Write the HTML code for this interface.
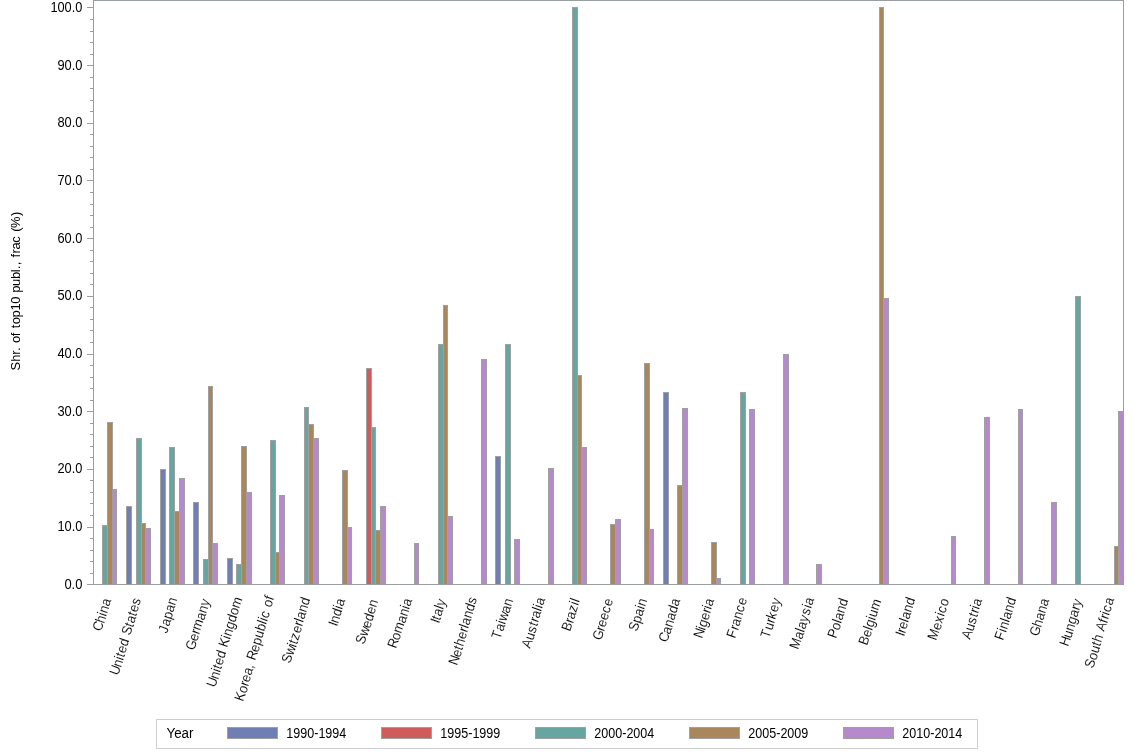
<!DOCTYPE html>
<html lang="en">
<head>
<meta charset="utf-8">
<title>Shr. of top10 publ., frac (%) by country and year</title>
<style>html,body{margin:0;padding:0;background:#fff;}body{width:1134px;height:756px;overflow:hidden;}</style>
</head>
<body>
<svg width="1134" height="756" viewBox="0 0 1134 756" style="display:block">
<rect x="0" y="0" width="1134" height="756" fill="#FFFFFF"/>
<g shape-rendering="crispEdges">
<rect x="102" y="525" width="6" height="59" fill="#A0A0A0"/>
<rect x="103" y="526" width="4" height="58" fill="#66A5A0"/>
<rect x="107" y="422" width="6" height="162" fill="#A0A0A0"/>
<rect x="108" y="423" width="4" height="161" fill="#A9865B"/>
<rect x="112" y="489" width="5" height="95" fill="#A0A0A0"/>
<rect x="113" y="490" width="3" height="94" fill="#B689CD"/>
<rect x="126" y="506" width="6" height="78" fill="#A0A0A0"/>
<rect x="127" y="507" width="4" height="77" fill="#6F7EB3"/>
<rect x="136" y="438" width="6" height="146" fill="#A0A0A0"/>
<rect x="137" y="439" width="4" height="145" fill="#66A5A0"/>
<rect x="141" y="523" width="5" height="61" fill="#A0A0A0"/>
<rect x="142" y="524" width="3" height="60" fill="#A9865B"/>
<rect x="145" y="528" width="6" height="56" fill="#A0A0A0"/>
<rect x="146" y="529" width="4" height="55" fill="#B689CD"/>
<rect x="160" y="469" width="6" height="115" fill="#A0A0A0"/>
<rect x="161" y="470" width="4" height="114" fill="#6F7EB3"/>
<rect x="169" y="447" width="6" height="137" fill="#A0A0A0"/>
<rect x="170" y="448" width="4" height="136" fill="#66A5A0"/>
<rect x="174" y="511" width="6" height="73" fill="#A0A0A0"/>
<rect x="175" y="512" width="4" height="72" fill="#A9865B"/>
<rect x="179" y="478" width="6" height="106" fill="#A0A0A0"/>
<rect x="180" y="479" width="4" height="105" fill="#B689CD"/>
<rect x="193" y="502" width="6" height="82" fill="#A0A0A0"/>
<rect x="194" y="503" width="4" height="81" fill="#6F7EB3"/>
<rect x="203" y="559" width="6" height="25" fill="#A0A0A0"/>
<rect x="204" y="560" width="4" height="24" fill="#66A5A0"/>
<rect x="208" y="386" width="5" height="198" fill="#A0A0A0"/>
<rect x="209" y="387" width="3" height="197" fill="#A9865B"/>
<rect x="212" y="543" width="6" height="41" fill="#A0A0A0"/>
<rect x="213" y="544" width="4" height="40" fill="#B689CD"/>
<rect x="227" y="558" width="6" height="26" fill="#A0A0A0"/>
<rect x="228" y="559" width="4" height="25" fill="#6F7EB3"/>
<rect x="236" y="564" width="6" height="20" fill="#A0A0A0"/>
<rect x="237" y="565" width="4" height="19" fill="#66A5A0"/>
<rect x="241" y="446" width="6" height="138" fill="#A0A0A0"/>
<rect x="242" y="447" width="4" height="137" fill="#A9865B"/>
<rect x="246" y="492" width="6" height="92" fill="#A0A0A0"/>
<rect x="247" y="493" width="4" height="91" fill="#B689CD"/>
<rect x="270" y="440" width="6" height="144" fill="#A0A0A0"/>
<rect x="271" y="441" width="4" height="143" fill="#66A5A0"/>
<rect x="275" y="552" width="5" height="32" fill="#A0A0A0"/>
<rect x="276" y="553" width="3" height="31" fill="#A9865B"/>
<rect x="279" y="495" width="6" height="89" fill="#A0A0A0"/>
<rect x="280" y="496" width="4" height="88" fill="#B689CD"/>
<rect x="304" y="407" width="5" height="177" fill="#A0A0A0"/>
<rect x="305" y="408" width="3" height="176" fill="#66A5A0"/>
<rect x="308" y="424" width="6" height="160" fill="#A0A0A0"/>
<rect x="309" y="425" width="4" height="159" fill="#A9865B"/>
<rect x="313" y="438" width="6" height="146" fill="#A0A0A0"/>
<rect x="314" y="439" width="4" height="145" fill="#B689CD"/>
<rect x="342" y="470" width="6" height="114" fill="#A0A0A0"/>
<rect x="343" y="471" width="4" height="113" fill="#A9865B"/>
<rect x="347" y="527" width="5" height="57" fill="#A0A0A0"/>
<rect x="348" y="528" width="3" height="56" fill="#B689CD"/>
<rect x="366" y="368" width="6" height="216" fill="#A0A0A0"/>
<rect x="367" y="369" width="4" height="215" fill="#D05B5B"/>
<rect x="371" y="427" width="5" height="157" fill="#A0A0A0"/>
<rect x="372" y="428" width="3" height="156" fill="#66A5A0"/>
<rect x="375" y="530" width="6" height="54" fill="#A0A0A0"/>
<rect x="376" y="531" width="4" height="53" fill="#A9865B"/>
<rect x="380" y="506" width="6" height="78" fill="#A0A0A0"/>
<rect x="381" y="507" width="4" height="77" fill="#B689CD"/>
<rect x="414" y="543" width="5" height="41" fill="#A0A0A0"/>
<rect x="415" y="544" width="3" height="40" fill="#B689CD"/>
<rect x="438" y="344" width="6" height="240" fill="#A0A0A0"/>
<rect x="439" y="345" width="4" height="239" fill="#66A5A0"/>
<rect x="443" y="305" width="5" height="279" fill="#A0A0A0"/>
<rect x="444" y="306" width="3" height="278" fill="#A9865B"/>
<rect x="447" y="516" width="6" height="68" fill="#A0A0A0"/>
<rect x="448" y="517" width="4" height="67" fill="#B689CD"/>
<rect x="481" y="359" width="6" height="225" fill="#A0A0A0"/>
<rect x="482" y="360" width="4" height="224" fill="#B689CD"/>
<rect x="495" y="456" width="6" height="128" fill="#A0A0A0"/>
<rect x="496" y="457" width="4" height="127" fill="#6F7EB3"/>
<rect x="505" y="344" width="6" height="240" fill="#A0A0A0"/>
<rect x="506" y="345" width="4" height="239" fill="#66A5A0"/>
<rect x="514" y="539" width="6" height="45" fill="#A0A0A0"/>
<rect x="515" y="540" width="4" height="44" fill="#B689CD"/>
<rect x="548" y="468" width="6" height="116" fill="#A0A0A0"/>
<rect x="549" y="469" width="4" height="115" fill="#B689CD"/>
<rect x="572" y="7" width="6" height="577" fill="#A0A0A0"/>
<rect x="573" y="8" width="4" height="576" fill="#66A5A0"/>
<rect x="577" y="375" width="5" height="209" fill="#A0A0A0"/>
<rect x="578" y="376" width="3" height="208" fill="#A9865B"/>
<rect x="581" y="447" width="6" height="137" fill="#A0A0A0"/>
<rect x="582" y="448" width="4" height="136" fill="#B689CD"/>
<rect x="610" y="524" width="6" height="60" fill="#A0A0A0"/>
<rect x="611" y="525" width="4" height="59" fill="#A9865B"/>
<rect x="615" y="519" width="6" height="65" fill="#A0A0A0"/>
<rect x="616" y="520" width="4" height="64" fill="#B689CD"/>
<rect x="644" y="363" width="6" height="221" fill="#A0A0A0"/>
<rect x="645" y="364" width="4" height="220" fill="#A9865B"/>
<rect x="649" y="529" width="5" height="55" fill="#A0A0A0"/>
<rect x="650" y="530" width="3" height="54" fill="#B689CD"/>
<rect x="663" y="392" width="6" height="192" fill="#A0A0A0"/>
<rect x="664" y="393" width="4" height="191" fill="#6F7EB3"/>
<rect x="677" y="485" width="6" height="99" fill="#A0A0A0"/>
<rect x="678" y="486" width="4" height="98" fill="#A9865B"/>
<rect x="682" y="408" width="6" height="176" fill="#A0A0A0"/>
<rect x="683" y="409" width="4" height="175" fill="#B689CD"/>
<rect x="711" y="542" width="6" height="42" fill="#A0A0A0"/>
<rect x="712" y="543" width="4" height="41" fill="#A9865B"/>
<rect x="716" y="578" width="5" height="6" fill="#A0A0A0"/>
<rect x="717" y="579" width="3" height="5" fill="#B689CD"/>
<rect x="740" y="392" width="6" height="192" fill="#A0A0A0"/>
<rect x="741" y="393" width="4" height="191" fill="#66A5A0"/>
<rect x="749" y="409" width="6" height="175" fill="#A0A0A0"/>
<rect x="750" y="410" width="4" height="174" fill="#B689CD"/>
<rect x="783" y="354" width="6" height="230" fill="#A0A0A0"/>
<rect x="784" y="355" width="4" height="229" fill="#B689CD"/>
<rect x="816" y="564" width="6" height="20" fill="#A0A0A0"/>
<rect x="817" y="565" width="4" height="19" fill="#B689CD"/>
<rect x="879" y="7" width="5" height="577" fill="#A0A0A0"/>
<rect x="880" y="8" width="3" height="576" fill="#A9865B"/>
<rect x="883" y="298" width="6" height="286" fill="#A0A0A0"/>
<rect x="884" y="299" width="4" height="285" fill="#B689CD"/>
<rect x="951" y="536" width="5" height="48" fill="#A0A0A0"/>
<rect x="952" y="537" width="3" height="47" fill="#B689CD"/>
<rect x="984" y="417" width="6" height="167" fill="#A0A0A0"/>
<rect x="985" y="418" width="4" height="166" fill="#B689CD"/>
<rect x="1018" y="409" width="5" height="175" fill="#A0A0A0"/>
<rect x="1019" y="410" width="3" height="174" fill="#B689CD"/>
<rect x="1051" y="502" width="6" height="82" fill="#A0A0A0"/>
<rect x="1052" y="503" width="4" height="81" fill="#B689CD"/>
<rect x="1075" y="296" width="6" height="288" fill="#A0A0A0"/>
<rect x="1076" y="297" width="4" height="287" fill="#66A5A0"/>
<rect x="1114" y="546" width="5" height="38" fill="#A0A0A0"/>
<rect x="1115" y="547" width="3" height="37" fill="#A9865B"/>
<rect x="1118" y="411" width="6" height="173" fill="#A0A0A0"/>
<rect x="1119" y="412" width="4" height="172" fill="#B689CD"/>
<rect x="93" y="0" width="1031" height="1" fill="#989EA1"/>
<rect x="1123" y="0" width="1" height="585" fill="#989EA1"/>
<rect x="93" y="0" width="1" height="585" fill="#989EA1"/>
<rect x="87" y="584" width="1037" height="1" fill="#989EA1"/>
<rect x="87" y="584" width="6" height="1" fill="#989EA1"/>
<rect x="90" y="573" width="3" height="1" fill="#989EA1"/>
<rect x="90" y="561" width="3" height="1" fill="#989EA1"/>
<rect x="90" y="550" width="3" height="1" fill="#989EA1"/>
<rect x="90" y="538" width="3" height="1" fill="#989EA1"/>
<rect x="87" y="527" width="6" height="1" fill="#989EA1"/>
<rect x="90" y="515" width="3" height="1" fill="#989EA1"/>
<rect x="90" y="503" width="3" height="1" fill="#989EA1"/>
<rect x="90" y="492" width="3" height="1" fill="#989EA1"/>
<rect x="90" y="480" width="3" height="1" fill="#989EA1"/>
<rect x="87" y="469" width="6" height="1" fill="#989EA1"/>
<rect x="90" y="457" width="3" height="1" fill="#989EA1"/>
<rect x="90" y="446" width="3" height="1" fill="#989EA1"/>
<rect x="90" y="434" width="3" height="1" fill="#989EA1"/>
<rect x="90" y="423" width="3" height="1" fill="#989EA1"/>
<rect x="87" y="411" width="6" height="1" fill="#989EA1"/>
<rect x="90" y="400" width="3" height="1" fill="#989EA1"/>
<rect x="90" y="388" width="3" height="1" fill="#989EA1"/>
<rect x="90" y="377" width="3" height="1" fill="#989EA1"/>
<rect x="90" y="365" width="3" height="1" fill="#989EA1"/>
<rect x="87" y="354" width="6" height="1" fill="#989EA1"/>
<rect x="90" y="342" width="3" height="1" fill="#989EA1"/>
<rect x="90" y="330" width="3" height="1" fill="#989EA1"/>
<rect x="90" y="319" width="3" height="1" fill="#989EA1"/>
<rect x="90" y="307" width="3" height="1" fill="#989EA1"/>
<rect x="87" y="296" width="6" height="1" fill="#989EA1"/>
<rect x="90" y="284" width="3" height="1" fill="#989EA1"/>
<rect x="90" y="273" width="3" height="1" fill="#989EA1"/>
<rect x="90" y="261" width="3" height="1" fill="#989EA1"/>
<rect x="90" y="250" width="3" height="1" fill="#989EA1"/>
<rect x="87" y="238" width="6" height="1" fill="#989EA1"/>
<rect x="90" y="227" width="3" height="1" fill="#989EA1"/>
<rect x="90" y="215" width="3" height="1" fill="#989EA1"/>
<rect x="90" y="204" width="3" height="1" fill="#989EA1"/>
<rect x="90" y="192" width="3" height="1" fill="#989EA1"/>
<rect x="87" y="180" width="6" height="1" fill="#989EA1"/>
<rect x="90" y="169" width="3" height="1" fill="#989EA1"/>
<rect x="90" y="157" width="3" height="1" fill="#989EA1"/>
<rect x="90" y="146" width="3" height="1" fill="#989EA1"/>
<rect x="90" y="134" width="3" height="1" fill="#989EA1"/>
<rect x="87" y="123" width="6" height="1" fill="#989EA1"/>
<rect x="90" y="111" width="3" height="1" fill="#989EA1"/>
<rect x="90" y="100" width="3" height="1" fill="#989EA1"/>
<rect x="90" y="88" width="3" height="1" fill="#989EA1"/>
<rect x="90" y="77" width="3" height="1" fill="#989EA1"/>
<rect x="87" y="65" width="6" height="1" fill="#989EA1"/>
<rect x="90" y="54" width="3" height="1" fill="#989EA1"/>
<rect x="90" y="42" width="3" height="1" fill="#989EA1"/>
<rect x="90" y="31" width="3" height="1" fill="#989EA1"/>
<rect x="90" y="19" width="3" height="1" fill="#989EA1"/>
<rect x="87" y="7" width="6" height="1" fill="#989EA1"/>
</g>
<g font-family="'Liberation Sans', Arial, Helvetica, sans-serif" font-size="14" fill="#000000">
<text x="64.4" y="589.00" textLength="18" lengthAdjust="spacingAndGlyphs">0.0</text>
<text x="57.400000000000006" y="531.00" textLength="25" lengthAdjust="spacingAndGlyphs">10.0</text>
<text x="57.400000000000006" y="473.00" textLength="25" lengthAdjust="spacingAndGlyphs">20.0</text>
<text x="57.400000000000006" y="416.00" textLength="25" lengthAdjust="spacingAndGlyphs">30.0</text>
<text x="57.400000000000006" y="358.00" textLength="25" lengthAdjust="spacingAndGlyphs">40.0</text>
<text x="57.400000000000006" y="300.00" textLength="25" lengthAdjust="spacingAndGlyphs">50.0</text>
<text x="57.400000000000006" y="243.00" textLength="25" lengthAdjust="spacingAndGlyphs">60.0</text>
<text x="57.400000000000006" y="185.00" textLength="25" lengthAdjust="spacingAndGlyphs">70.0</text>
<text x="57.400000000000006" y="127.00" textLength="25" lengthAdjust="spacingAndGlyphs">80.0</text>
<text x="57.400000000000006" y="70.00" textLength="25" lengthAdjust="spacingAndGlyphs">90.0</text>
<text x="50.400000000000006" y="12.00" textLength="32" lengthAdjust="spacingAndGlyphs">100.0</text>
<text xml:space="preserve" transform="translate(20.3,370.6) rotate(-90) scale(0.95,1)" x="0.00 9.32 16.57 20.72 24.86 29.00 36.25 40.40 44.54 48.68 55.93 63.18 70.43 77.68 81.83 89.08 96.33 103.58 106.69 110.83 114.97 119.12 123.26 127.40 134.65 141.90 146.05 150.19 162.62" y="0" font-size="13.6" stroke="#FFFFFF" stroke-width="0" paint-order="fill">Shr. of top10 publ., frac (%)</text>
<g font-size="14" stroke="#FFFFFF" stroke-width="0.12" paint-order="fill" stroke-linejoin="round">
<text xml:space="preserve" transform="matrix(0.30710 -0.86723 0.94264 0.33381 0 0)" x="-610.94 -601.66 -593.76 -590.32 -582.43" y="306.08 306.24 305.78 305.73 305.27">China</text>
<text xml:space="preserve" transform="matrix(0.30710 -0.86723 0.94264 0.33381 0 0)" x="-649.86 -640.57 -632.68 -629.24 -624.78 -616.88 -608.98 -604.52 -595.23 -590.77 -582.88 -578.41 -570.52" y="336.79 336.95 336.50 336.44 336.05 335.59 335.14 334.75 334.91 334.52 334.06 333.67 333.22">United States</text>
<text xml:space="preserve" transform="matrix(0.30710 -0.86723 0.94264 0.33381 0 0)" x="-589.05 -581.15 -573.25 -565.35 -557.45" y="368.96 368.51 368.06 367.61 367.15">Japan</text>
<text xml:space="preserve" transform="matrix(0.30710 -0.86723 0.94264 0.33381 0 0)" x="-596.67 -586.36 -578.46 -574.00 -562.30 -554.40 -546.51" y="400.09 399.91 399.46 399.07 399.50 399.05 398.60">Germany</text>
<text xml:space="preserve" transform="matrix(0.30710 -0.86723 0.94264 0.33381 0 0)" x="-626.96 -617.67 -609.78 -606.34 -601.88 -593.98 -586.08 -581.62 -572.34 -568.90 -561.00 -553.10 -545.20 -537.31" y="432.23 432.39 431.94 431.88 431.49 431.04 430.58 430.19 430.35 430.29 429.84 429.39 428.94 428.49">United Kingdom</text>
<text xml:space="preserve" transform="matrix(0.30710 -0.86723 0.94264 0.33381 0 0)" x="-631.14 -621.86 -613.96 -609.50 -601.60 -593.70 -589.24 -584.78 -575.50 -567.60 -559.70 -551.80 -543.90 -540.47 -537.03 -529.13 -524.67 -516.77" y="463.30 463.46 463.01 462.61 462.16 461.71 461.32 460.93 461.08 460.63 460.18 459.73 459.28 459.22 459.16 458.71 458.32 457.86">Korea, Republic of</text>
<text xml:space="preserve" transform="matrix(0.30710 -0.86723 0.94264 0.33381 0 0)" x="-575.16 -565.87 -556.59 -553.15 -548.69 -540.79 -532.89 -528.43 -524.99 -517.10 -509.20" y="494.92 495.08 495.23 495.18 494.78 494.33 493.88 493.49 493.43 492.98 492.53">Switzerland</text>
<text xml:space="preserve" transform="matrix(0.30710 -0.86723 0.94264 0.33381 0 0)" x="-520.19 -516.76 -508.86 -500.96 -497.52" y="526.87 526.81 526.36 525.91 525.85">India</text>
<text xml:space="preserve" transform="matrix(0.30710 -0.86723 0.94264 0.33381 0 0)" x="-528.84 -519.55 -510.27 -502.37 -494.47 -486.57" y="558.33 558.49 558.65 558.20 557.74 557.29">Sweden</text>
<text xml:space="preserve" transform="matrix(0.30710 -0.86723 0.94264 0.33381 0 0)" x="-521.33 -512.04 -504.14 -492.45 -484.55 -476.65 -473.21" y="589.83 589.99 589.54 589.97 589.52 589.07 589.01">Romania</text>
<text xml:space="preserve" transform="matrix(0.30710 -0.86723 0.94264 0.33381 0 0)" x="-480.11 -476.67 -472.21 -464.31 -460.88" y="622.02 621.96 621.57 621.12 621.06">Italy</text>
<text xml:space="preserve" transform="matrix(0.30710 -0.86723 0.94264 0.33381 0 0)" x="-516.61 -507.33 -499.43 -494.97 -487.07 -479.17 -474.71 -471.27 -463.38 -455.48 -447.58" y="653.01 653.17 652.71 652.32 651.87 651.42 651.03 650.97 650.52 650.06 649.61">Netherlands</text>
<text xml:space="preserve" transform="matrix(0.30710 -0.86723 0.94264 0.33381 0 0)" x="-474.37 -465.08 -457.19 -453.75 -444.46 -436.57" y="684.86 685.02 684.57 684.51 684.67 684.22">Taiwan</text>
<text xml:space="preserve" transform="matrix(0.30710 -0.86723 0.94264 0.33381 0 0)" x="-472.71 -463.42 -455.52 -447.63 -443.16 -438.70 -430.80 -427.37 -423.93" y="716.15 716.30 715.85 715.40 715.01 714.62 714.16 714.11 714.05">Australia</text>
<text xml:space="preserve" transform="matrix(0.30710 -0.86723 0.94264 0.33381 0 0)" x="-440.77 -431.49 -427.03 -419.13 -411.23 -407.80" y="748.18 748.33 747.94 747.49 747.04 746.98">Brazil</text>
<text xml:space="preserve" transform="matrix(0.30710 -0.86723 0.94264 0.33381 0 0)" x="-438.75 -428.44 -423.98 -416.08 -408.18 -400.28" y="780.40 780.23 779.83 779.38 778.93 778.48">Greece</text>
<text xml:space="preserve" transform="matrix(0.30710 -0.86723 0.94264 0.33381 0 0)" x="-416.47 -407.18 -399.28 -391.38 -387.95" y="811.33 811.49 811.04 810.59 810.53">Spain</text>
<text xml:space="preserve" transform="matrix(0.30710 -0.86723 0.94264 0.33381 0 0)" x="-416.85 -407.57 -399.67 -391.77 -383.87 -375.97" y="843.29 843.44 842.99 842.54 842.09 841.64">Canada</text>
<text xml:space="preserve" transform="matrix(0.30710 -0.86723 0.94264 0.33381 0 0)" x="-400.05 -390.77 -387.33 -379.43 -371.54 -367.07 -363.64" y="874.94 875.10 875.04 874.59 874.14 873.75 873.69">Nigeria</text>
<text xml:space="preserve" transform="matrix(0.30710 -0.86723 0.94264 0.33381 0 0)" x="-388.08 -378.79 -374.33 -366.44 -358.54 -350.64" y="906.05 906.21 905.81 905.36 904.91 904.46">France</text>
<text xml:space="preserve" transform="matrix(0.30710 -0.86723 0.94264 0.33381 0 0)" x="-375.74 -366.46 -358.56 -354.10 -346.20 -338.30" y="938.10 938.26 937.81 937.41 936.96 936.51">Turkey</text>
<text xml:space="preserve" transform="matrix(0.30710 -0.86723 0.94264 0.33381 0 0)" x="-376.49 -364.79 -356.90 -353.46 -345.56 -337.66 -329.77 -326.33" y="969.11 969.54 969.09 969.03 968.58 968.13 967.68 967.62">Malaysia</text>
<text xml:space="preserve" transform="matrix(0.30710 -0.86723 0.94264 0.33381 0 0)" x="-351.43 -342.15 -334.25 -330.81 -322.92 -315.02" y="1001.26 1001.41 1000.96 1000.90 1000.45 1000.00">Poland</text>
<text xml:space="preserve" transform="matrix(0.30710 -0.86723 0.94264 0.33381 0 0)" x="-347.36 -338.07 -330.17 -326.74 -318.84 -315.40 -307.51" y="1032.82 1032.97 1032.52 1032.46 1032.01 1031.95 1031.50">Belgium</text>
<text xml:space="preserve" transform="matrix(0.30710 -0.86723 0.94264 0.33381 0 0)" x="-324.71 -321.27 -316.81 -308.92 -305.48 -297.58 -289.68" y="1064.69 1064.63 1064.24 1063.79 1063.73 1063.28 1062.82">Ireland</text>
<text xml:space="preserve" transform="matrix(0.30710 -0.86723 0.94264 0.33381 0 0)" x="-317.20 -305.50 -297.60 -289.71 -286.27 -278.37" y="1096.19 1096.62 1096.17 1095.72 1095.66 1095.21">Mexico</text>
<text xml:space="preserve" transform="matrix(0.30710 -0.86723 0.94264 0.33381 0 0)" x="-303.84 -294.55 -286.66 -278.76 -274.30 -269.83 -266.40" y="1127.90 1128.06 1127.61 1127.16 1126.77 1126.37 1126.32">Austria</text>
<text xml:space="preserve" transform="matrix(0.30710 -0.86723 0.94264 0.33381 0 0)" x="-292.89 -283.60 -280.17 -272.27 -268.83 -260.93 -253.04" y="1159.35 1159.50 1159.44 1158.99 1158.93 1158.48 1158.03">Finland</text>
<text xml:space="preserve" transform="matrix(0.30710 -0.86723 0.94264 0.33381 0 0)" x="-276.09 -265.78 -257.88 -249.99 -242.09" y="1191.00 1190.83 1190.37 1189.92 1189.47">Ghana</text>
<text xml:space="preserve" transform="matrix(0.30710 -0.86723 0.94264 0.33381 0 0)" x="-275.45 -266.17 -258.27 -250.37 -242.47 -234.58 -230.11" y="1222.62 1222.78 1222.33 1221.87 1221.42 1220.97 1220.58">Hungary</text>
<text xml:space="preserve" transform="matrix(0.30710 -0.86723 0.94264 0.33381 0 0)" x="-288.92 -279.64 -271.74 -263.84 -259.38 -251.48 -247.02 -237.74 -233.28 -228.81 -225.38 -217.48" y="1253.53 1253.69 1253.24 1252.78 1252.39 1251.94 1251.55 1251.71 1251.31 1250.92 1250.86 1250.41">South Africa</text>
</g>
</g>
<g shape-rendering="crispEdges">
<rect x="156.5" y="719.5" width="821" height="29" fill="#FFFFFF" stroke="#CECECE" stroke-width="1"/>
<rect x="227" y="727" width="51" height="12" fill="#A0A0A0"/>
<rect x="228" y="728" width="49" height="10" fill="#6F7EB3"/>
<rect x="381" y="727" width="51" height="12" fill="#A0A0A0"/>
<rect x="382" y="728" width="49" height="10" fill="#D05B5B"/>
<rect x="535" y="727" width="51" height="12" fill="#A0A0A0"/>
<rect x="536" y="728" width="49" height="10" fill="#66A5A0"/>
<rect x="689" y="727" width="51" height="12" fill="#A0A0A0"/>
<rect x="690" y="728" width="49" height="10" fill="#A9865B"/>
<rect x="843" y="727" width="51" height="12" fill="#A0A0A0"/>
<rect x="844" y="728" width="49" height="10" fill="#B689CD"/>
</g>
<g font-family="'Liberation Sans', Arial, Helvetica, sans-serif" font-size="14" fill="#000000">
<text x="166.5" y="737.9" textLength="27" lengthAdjust="spacingAndGlyphs">Year</text>
<text x="286.3" y="737.9" textLength="60" lengthAdjust="spacingAndGlyphs">1990-1994</text>
<text x="440.3" y="737.9" textLength="60" lengthAdjust="spacingAndGlyphs">1995-1999</text>
<text x="594.3" y="737.9" textLength="60" lengthAdjust="spacingAndGlyphs">2000-2004</text>
<text x="748.3" y="737.9" textLength="60" lengthAdjust="spacingAndGlyphs">2005-2009</text>
<text x="902.3" y="737.9" textLength="60" lengthAdjust="spacingAndGlyphs">2010-2014</text>
</g>
</svg>
</body>
</html>
